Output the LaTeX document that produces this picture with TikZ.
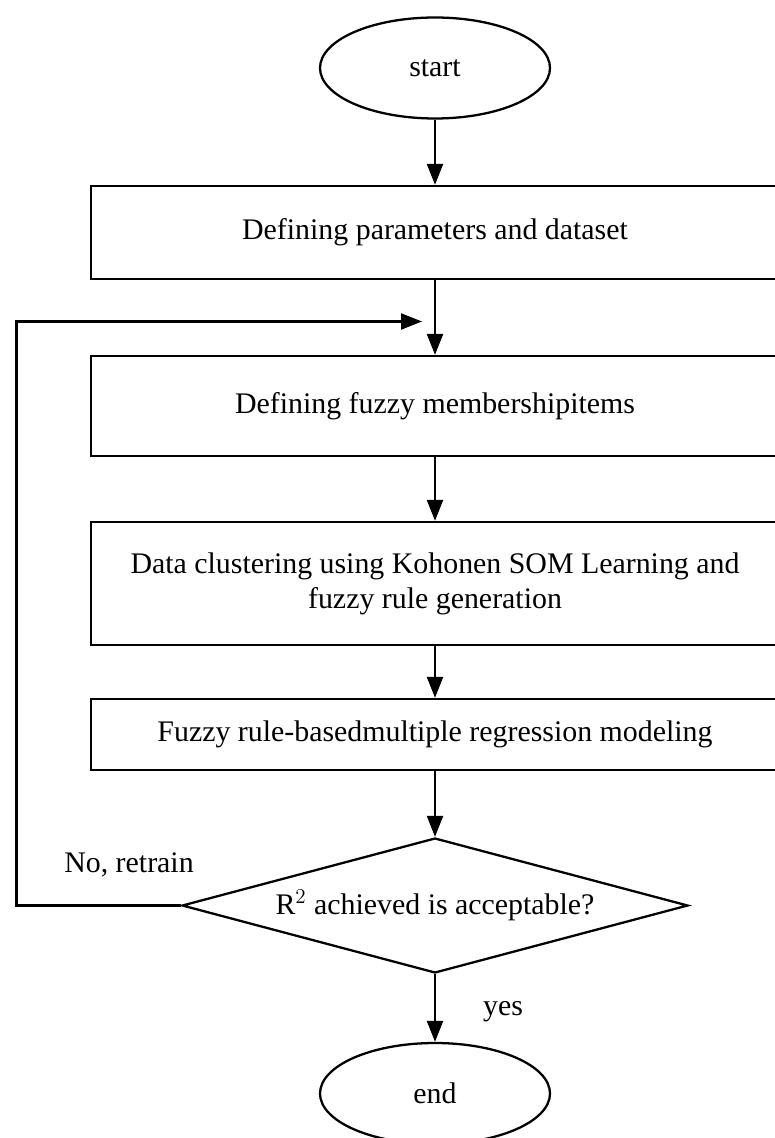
\documentclass[tikz,border=0pt]{standalone}
\usepackage{fontspec}
\setmainfont{Liberation Serif}
\usetikzlibrary{arrows.meta,shapes.geometric}

\begin{document}
\begin{tikzpicture}[
  every node/.style={font=\fontsize{17}{20}\selectfont},
  term/.style={ellipse,draw,line width=1.3pt,minimum width=4.6cm,minimum height=2.02cm,inner sep=0pt},
  stepbox/.style={rectangle,draw,line width=1.3pt,minimum width=13.76cm,inner sep=0pt,align=center},
  decide/.style={diamond,draw,line width=1.3pt,aspect=3.75,minimum width=10.12cm,minimum height=2.7cm,inner sep=0pt},
  flow/.style={line width=1.3pt,-{Triangle[length=4.2mm,width=3.2mm]}}]
  \useasboundingbox (0,0) rectangle (15.48,-22.76);
  % terminals and steps
  \node[term] (start) at (8.7,-1.36) {start};
  \node[stepbox,minimum height=1.86cm] (def) at (8.7,-4.65) {Defining parameters and dataset};
  \node[stepbox,minimum height=2.0cm] (memb) at (8.7,-8.12) {Defining fuzzy membershipitems};
  \node[stepbox,minimum height=2.46cm] (clus) at (8.7,-11.67)
    {Data clustering using Kohonen SOM Learning and\\fuzzy rule generation};
  \node[stepbox,minimum height=1.42cm] (reg) at (8.7,-14.69) {Fuzzy rule-basedmultiple regression modeling};
  \node[decide] (dec) at (8.7,-18.11) {R$^2$ achieved is acceptable?};
  \node[term] (end) at (8.7,-21.87) {end};
  % main flow
  \draw[flow] (start) -- (def);
  \draw[flow] (def) -- (memb);
  \draw[flow] (memb) -- (clus);
  \draw[flow] (clus) -- (reg);
  \draw[flow] (reg) -- (dec);
  \draw[flow] (dec) -- (end);
  % retrain loop
  \coordinate (back) at (0.33,-6.43);
  \coordinate (join) at (8.44,-6.43);
  \draw[flow] (dec.west) -| (back) -- (join);
  \node (no) at (2.58,-17.3) {No, retrain};
  \node (yes) at (10.06,-20.24) {yes};
\end{tikzpicture}
\end{document}
